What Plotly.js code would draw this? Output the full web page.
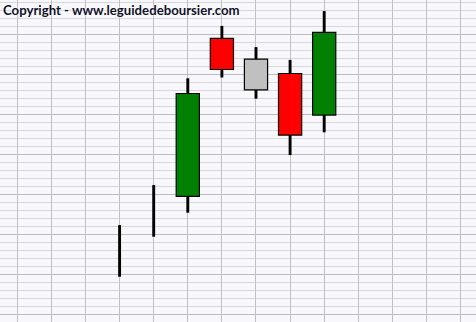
<!DOCTYPE html>
<html>
<head>
<meta charset="utf-8">
<script src="https://cdn.plot.ly/plotly-3.0.1.min.js"></script>
<style>
  html, body { margin: 0; padding: 0; background: #f8f8fc; }
  #chart { width: 476px; height: 322px; }
</style>
</head>
<body>
<div id="chart"></div>
<script>
// Seven sessions: the first two are plain ranges (no body), then five candles.
const sessions = [1, 2, 3, 4, 5, 6, 7];
const opens  = [null, null, 14.75, 34.5, 31.9, 30.1, 24.9];
const highs  = [11.15, 16.15, 29.5, 36.05, 33.4, 31.8, 37.9];
const lows   = [4.7, 9.7, 12.7, 29.6, 26.95, 19.9, 22.75];
const closes = [null, null, 27.6, 30.6, 28.05, 22.4, 35.25];

// Body fills: rising = green, falling = red, neutral = grey
const bodyColors = ['#000000', '#000000', '#008000', '#ff0000', '#c0c0c0', '#ff0000', '#008000'];

const bodyX = [], bodyBase = [], bodyLen = [], bodyFill = [];
sessions.forEach((s, i) => {
  if (opens[i] === null || closes[i] === null) return;
  bodyX.push(s);
  bodyBase.push(Math.min(opens[i], closes[i]));
  bodyLen.push(Math.abs(closes[i] - opens[i]));
  bodyFill.push(bodyColors[i]);
});

const wicks = {
  type: 'bar',
  x: sessions,
  base: lows,
  y: highs.map((h, i) => h - lows[i]),
  width: 0.085,
  marker: { color: '#000000', line: { width: 0 } },
  hoverinfo: 'skip'
};

const bodies = {
  type: 'bar',
  x: bodyX,
  base: bodyBase,
  y: bodyLen,
  width: 0.68,
  marker: { color: bodyFill, line: { color: '#000000', width: 1.2 } },
  hoverinfo: 'skip'
};

const layout = {
  width: 476,
  height: 322,
  margin: { l: 0, r: 0, t: 0, b: 0, pad: 0 },
  paper_bgcolor: '#f8f8fc',
  plot_bgcolor: '#f8f8fc',
  showlegend: false,
  barmode: 'overlay',
  hovermode: false,
  title: {
    text: 'Copyright - www.leguidedeboursier.com',
    xref: 'container', yref: 'container',
    x: 3 / 476, xanchor: 'left',
    y: 1 - 10.5 / 322, yanchor: 'middle',
    font: { family: 'Lato, "Open Sans", sans-serif', size: 13.2, weight: 700, color: '#11112a',
            shadow: '0 0 2px #ffffff, 0 0 2px #ffffff' }
  },
  xaxis: {
    range: [-2.507, 11.452],
    tick0: 0, dtick: 1,
    showgrid: true, gridcolor: '#c2c2c6', gridwidth: 1,
    showticklabels: false, ticks: '', zeroline: false, showline: false,
    fixedrange: true
  },
  yaxis: {
    range: [-0.9625, 39.2875],
    tick0: 0, dtick: 5,
    showgrid: true, gridcolor: '#bcbcc0', gridwidth: 1,
    minor: { tick0: 0, dtick: 1, showgrid: true, gridcolor: '#d8d8dc', gridwidth: 1 },
    showticklabels: false, ticks: '', zeroline: false, showline: false,
    fixedrange: true
  }
};

Plotly.newPlot('chart', [wicks, bodies], layout, { displayModeBar: false, staticPlot: true });
</script>
</body>
</html>
